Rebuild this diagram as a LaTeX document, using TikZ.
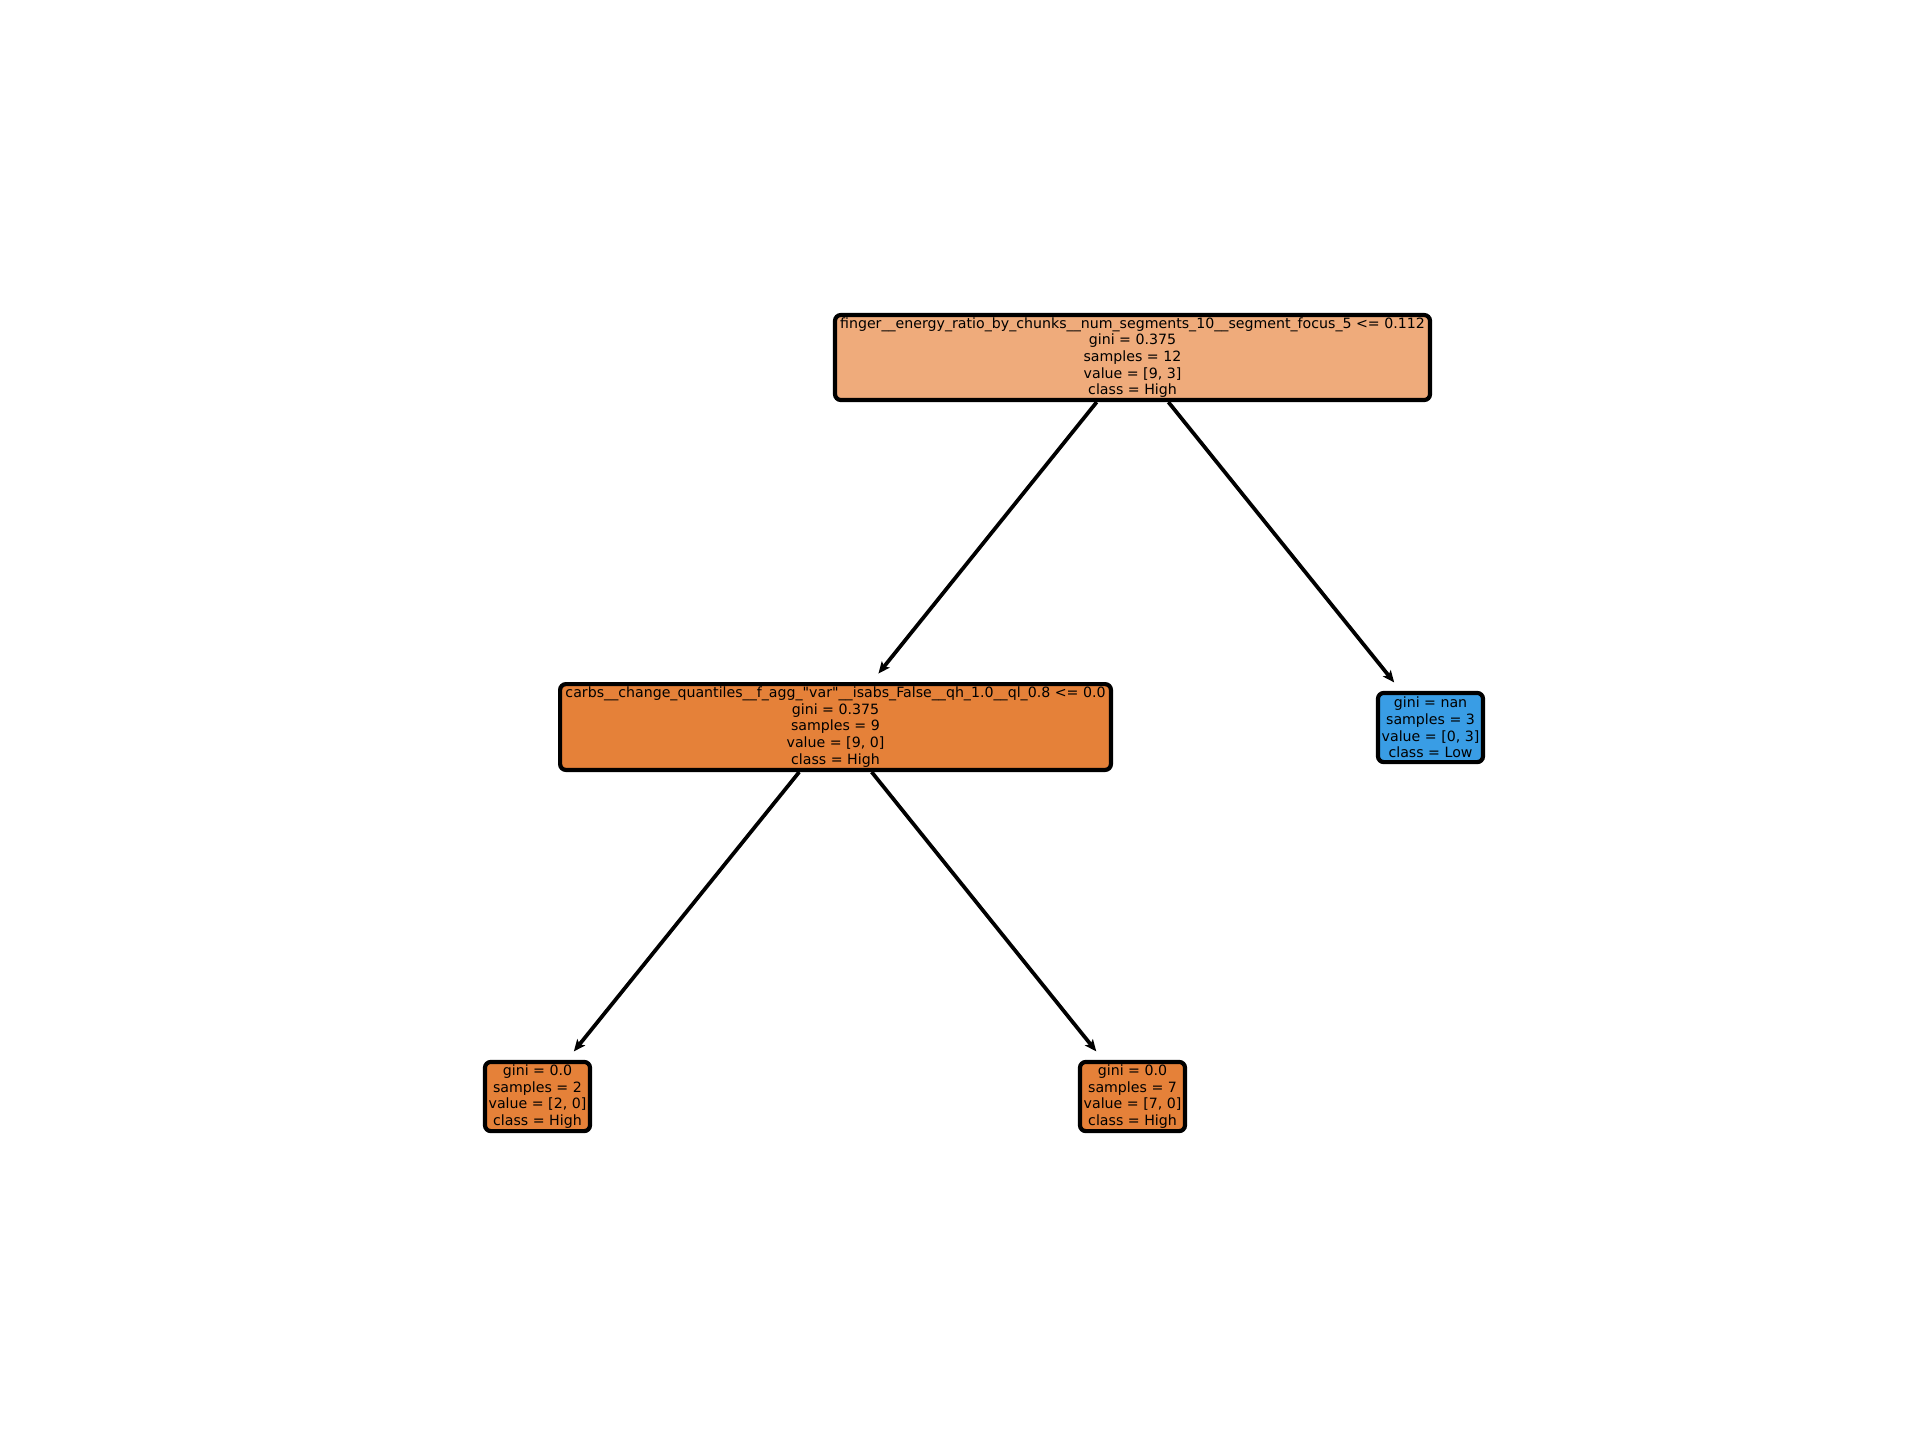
\documentclass[tikz,border=0pt]{standalone}
\usepackage{fontspec}
\setmainfont{DejaVu Sans}[Ligatures=TeXOff]
\usetikzlibrary{arrows.meta}
\definecolor{rootfill}{RGB}{239,171,123}
\definecolor{orangefill}{RGB}{229,129,57}
\definecolor{bluefill}{RGB}{57,157,229}
\begin{document}
\begin{tikzpicture}[x=0.24pt,y=-0.24pt,
  treenode/.style={draw=black,line width=1pt,rounded corners=1.4pt,inner sep=0pt,
    align=center,font=\fontsize{3.40}{4.0}\selectfont},
  edge/.style={line width=0.9pt,-{Stealth[length=2.8pt,width=2.4pt,inset=0.6pt]},shorten >=2.6pt}]
\useasboundingbox (0,0) rectangle (1920,1440);
\node[treenode,fill=rootfill,minimum width=142.8pt,minimum height=20.4pt] (root) at (1132.5,357.5)
  {finger\_\_energy\_ratio\_by\_chunks\_\_num\_segments\_10\_\_segment\_focus\_5 <= 0.112\\gini = 0.375\\samples = 12\\value = [9, 3]\\class = High};
\node[treenode,fill=orangefill,minimum width=132.2pt,minimum height=20.6pt] (mid) at (835.5,727)
  {carbs\_\_change\_quantiles\_\_f\_agg\_"var"\_\_isabs\_False\_\_qh\_1.0\_\_ql\_0.8 <= 0.0\\gini = 0.375\\samples = 9\\value = [9, 0]\\class = High};
\node[treenode,fill=bluefill,minimum width=25.2pt,minimum height=16.6pt] (rleaf) at (1430.5,727.5)
  {gini = nan\\samples = 3\\value = [0, 3]\\class = Low};
\node[treenode,fill=orangefill,minimum width=25.2pt,minimum height=16.6pt] (lleaf) at (537.5,1096.5)
  {gini = 0.0\\samples = 2\\value = [2, 0]\\class = High};
\node[treenode,fill=orangefill,minimum width=25.2pt,minimum height=16.6pt] (mleaf) at (1132.5,1096.5)
  {gini = 0.0\\samples = 7\\value = [7, 0]\\class = High};
\draw[edge] (root) -- (mid);
\draw[edge] (root) -- (rleaf);
\draw[edge] (mid) -- (lleaf);
\draw[edge] (mid) -- (mleaf);
\end{tikzpicture}
\end{document}
